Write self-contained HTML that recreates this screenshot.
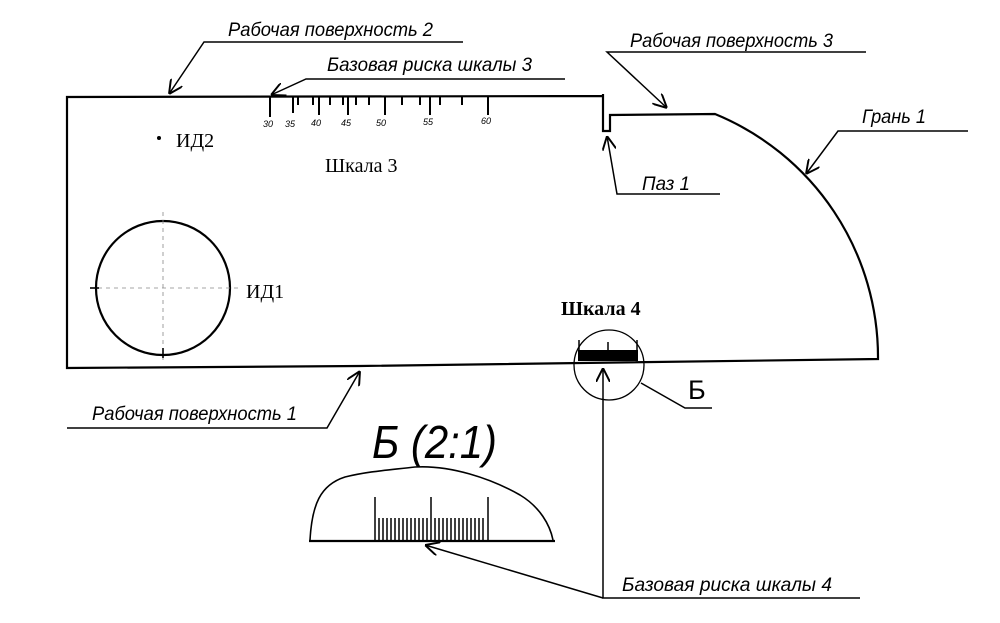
<!DOCTYPE html>
<html><head><meta charset="utf-8"><style>
html,body{margin:0;padding:0;background:#fff;width:1000px;height:623px;overflow:hidden}
svg{display:block}
.it{font-family:"Liberation Sans",sans-serif;font-style:italic;font-size:19px;fill:#000}
.sr{font-family:"Liberation Serif",serif;fill:#000}
</style></head><body>
<svg width="1000" height="623" viewBox="0 0 1000 623" xmlns="http://www.w3.org/2000/svg">
<defs>
<marker id="a" viewBox="0 0 10 10" refX="10" refY="5" markerWidth="14" markerHeight="14" markerUnits="userSpaceOnUse" orient="auto">
<path d="M0,0 L10,5 L0,10" fill="none" stroke="#000" stroke-width="1.4"/>
</marker>
</defs>
<g fill="none" stroke="#000" stroke-width="2.2">
<path d="M603,96 L67,97 L67,368 L360,366 L878,359 A263,263 0 0 0 715,114 L610,115 L610,131 L603,131 L603,94"/>
<circle cx="163" cy="288" r="67"/>
<circle cx="609" cy="365" r="35" stroke-width="1.3"/>
</g>
<g stroke="#888" stroke-width="0.8" stroke-dasharray="4,4" fill="none">
<line x1="90" y1="288" x2="238" y2="288"/>
<line x1="163" y1="212" x2="163" y2="360"/>
</g>
<g stroke="#000" stroke-width="1.6">
<line x1="90" y1="288" x2="99" y2="288"/><line x1="163" y1="348" x2="163" y2="358"/>
</g>
<g stroke="#000" stroke-width="2">
<line x1="270" y1="97" x2="270" y2="117"/>
<line x1="293" y1="97" x2="293" y2="113"/>
<line x1="298" y1="97" x2="298" y2="105"/>
<line x1="313" y1="97" x2="313" y2="105"/>
<line x1="319" y1="97" x2="319" y2="115"/>
<line x1="330" y1="97" x2="330" y2="105"/>
<line x1="343" y1="97" x2="343" y2="105"/>
<line x1="348" y1="97" x2="348" y2="115"/>
<line x1="356" y1="97" x2="356" y2="105"/>
<line x1="369" y1="97" x2="369" y2="105"/>
<line x1="385" y1="97" x2="385" y2="115"/>
<line x1="402" y1="97" x2="402" y2="105"/>
<line x1="420" y1="97" x2="420" y2="105"/>
<line x1="430" y1="97" x2="430" y2="115"/>
<line x1="440" y1="97" x2="440" y2="105"/>
<line x1="462" y1="97" x2="462" y2="105"/>
<line x1="488" y1="97" x2="488" y2="115"/>
</g>
<g class="it" style="font-size:9px">
<text x="263" y="127">30</text><text x="285" y="127">35</text><text x="311" y="126">40</text><text x="341" y="126">45</text><text x="376" y="126">50</text><text x="423" y="125">55</text><text x="481" y="124">60</text>
</g>
<circle cx="159" cy="138" r="2" fill="#000"/>
<text class="sr" x="176" y="147" font-size="20">ИД2</text>
<text class="sr" x="325" y="172" font-size="20">Шкала 3</text>
<text class="sr" x="246" y="298" font-size="20">ИД1</text>
<text class="sr" x="561" y="315" font-size="20" font-weight="bold">Шкала 4</text>
<rect x="578" y="350" width="60" height="11" fill="#000"/>
<g stroke="#000" stroke-width="1.5"><line x1="579" y1="340" x2="579" y2="361"/><line x1="637" y1="340" x2="637" y2="361"/><line x1="608" y1="342" x2="608" y2="352"/></g>
<g fill="none" stroke="#000" stroke-width="1.5">
<polyline points="463,42 204,42 169,94" marker-end="url(#a)"/>
<polyline points="565,79 306,79 271,95" marker-end="url(#a)"/>
<polyline points="866,52 607,52 667,108" marker-end="url(#a)"/>
<polyline points="968,131 838,131 806,174" marker-end="url(#a)"/>
<polyline points="720,194 617,194 607,136" marker-end="url(#a)"/>
<polyline points="67,428 327,428 360,371" marker-end="url(#a)"/>
<polyline points="641,383 685,408 712,408"/>
<polyline points="860,598 603,598 603,368" marker-end="url(#a)"/>
<polyline points="603,598 425,545" marker-end="url(#a)"/>
</g>
<text class="it" x="228" y="36" textLength="205" lengthAdjust="spacingAndGlyphs">Рабочая поверхность 2</text>
<text class="it" x="327" y="71" textLength="205" lengthAdjust="spacingAndGlyphs">Базовая риска шкалы 3</text>
<text class="it" x="630" y="47" textLength="203" lengthAdjust="spacingAndGlyphs">Рабочая поверхность 3</text>
<text class="it" x="862" y="123" textLength="64" lengthAdjust="spacingAndGlyphs">Грань 1</text>
<text class="it" x="642" y="190" textLength="48" lengthAdjust="spacingAndGlyphs">Паз 1</text>
<text class="it" x="92" y="420" textLength="205" lengthAdjust="spacingAndGlyphs">Рабочая поверхность 1</text>
<text class="it" x="622" y="591" textLength="210" lengthAdjust="spacingAndGlyphs">Базовая риска шкалы 4</text>
<text x="688" y="399" font-family="Liberation Sans,sans-serif" font-size="27">Б</text>
<text class="it" x="372" y="458" style="font-size:46px" textLength="125" lengthAdjust="spacingAndGlyphs">Б (2:1)</text>
<path d="M310,540 C312,505 320,485 345,477 C370,471 390,470 415,467 C450,465 490,478 520,495 C540,507 550,525 553,540" fill="none" stroke="#000" stroke-width="1.6"/>
<line x1="309" y1="541" x2="555" y2="541" stroke="#000" stroke-width="2.2"/>
<g stroke="#000" stroke-width="1.5">
<line x1="375" y1="497" x2="375" y2="541"/><line x1="431" y1="497" x2="431" y2="541"/><line x1="488" y1="497" x2="488" y2="541"/>
<line x1="379" y1="518" x2="379" y2="541"/><line x1="383" y1="518" x2="383" y2="541"/><line x1="387" y1="518" x2="387" y2="541"/><line x1="391" y1="518" x2="391" y2="541"/><line x1="395" y1="518" x2="395" y2="541"/><line x1="399" y1="518" x2="399" y2="541"/><line x1="403" y1="518" x2="403" y2="541"/><line x1="407" y1="518" x2="407" y2="541"/><line x1="411" y1="518" x2="411" y2="541"/><line x1="415" y1="518" x2="415" y2="541"/><line x1="419" y1="518" x2="419" y2="541"/><line x1="423" y1="518" x2="423" y2="541"/><line x1="427" y1="518" x2="427" y2="541"/>
<line x1="435" y1="518" x2="435" y2="541"/><line x1="439" y1="518" x2="439" y2="541"/><line x1="443" y1="518" x2="443" y2="541"/><line x1="447" y1="518" x2="447" y2="541"/><line x1="451" y1="518" x2="451" y2="541"/><line x1="455" y1="518" x2="455" y2="541"/><line x1="459" y1="518" x2="459" y2="541"/><line x1="463" y1="518" x2="463" y2="541"/><line x1="467" y1="518" x2="467" y2="541"/><line x1="471" y1="518" x2="471" y2="541"/><line x1="475" y1="518" x2="475" y2="541"/><line x1="479" y1="518" x2="479" y2="541"/><line x1="483" y1="518" x2="483" y2="541"/>
</g>
</svg>
</body></html>
